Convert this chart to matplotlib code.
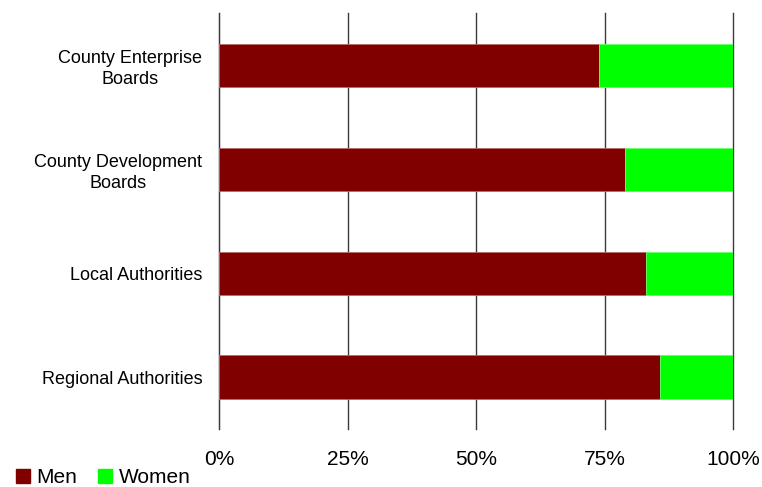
import matplotlib
matplotlib.use("Agg")
import matplotlib.pyplot as plt
from matplotlib.lines import Line2D

plt.rcParams['font.family'] = ['Liberation Sans', 'DejaVu Sans']

categories = ["County Enterprise\nBoards", "County Development\nBoards",
              "Local Authorities", "Regional Authorities"]
men = [73.8, 78.9, 83.1, 85.8]
women = [100 - m for m in men]
xticks = [0, 25, 50, 75, 100]
xtick_labels = ["0%", "25%", "50%", "75%", "100%"]

men_color = "#800000"
women_color = "#00FF00"

fig = plt.figure(figsize=(7.62, 4.87), dpi=100)
ax = fig.add_axes([0.2874, 0.1191, 0.6749, 0.8536])

y = list(range(len(categories)))
bar_h = 0.415
ax.barh(y, men, height=bar_h, color=men_color, edgecolor="#b86a6a", linewidth=0.6, zorder=3)
ax.barh(y, women, left=men, height=bar_h, color=women_color, edgecolor="#66ff66", linewidth=0.6, zorder=3)

ax.set_xlim(0, 100)
ax.set_ylim(len(categories) - 0.5, -0.5)
ax.set_xticks(xticks)
ax.set_xticklabels(xtick_labels, fontsize=15)
ax.set_yticks(y)
ax.set_yticklabels(categories, fontsize=13, ha="right", multialignment="center",
                   linespacing=1.3)
ax.tick_params(axis="y", length=0, pad=12)
ax.tick_params(axis="x", length=0, pad=15)

for x in xticks:
    ax.axvline(x, color="#3a3a3a", linewidth=1.0, zorder=1, clip_on=False)
for side in ["top", "right", "bottom"]:
    ax.spines[side].set_visible(False)
ax.spines["left"].set_color("#3a3a3a")

handles = [Line2D([], [], marker="s", linestyle="none", markersize=10, color=men_color),
           Line2D([], [], marker="s", linestyle="none", markersize=10, color=women_color)]
fig.legend(handles, ["Men", "Women"], loc="lower left", bbox_to_anchor=(0.008, -0.018),
           ncol=2, frameon=False, fontsize=15, handlelength=0.8, handletextpad=0.25,
           columnspacing=0.95, borderaxespad=0.0)

fig.savefig("out.png", dpi=100)
